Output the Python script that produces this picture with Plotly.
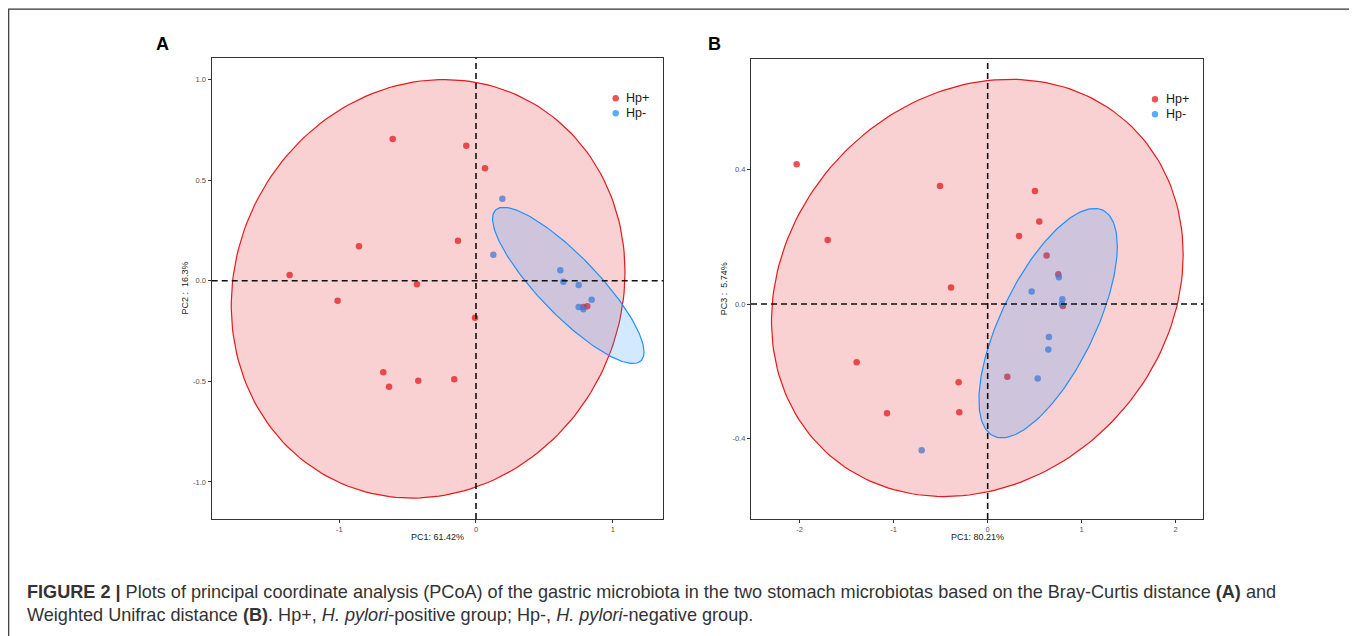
import numpy as np
import plotly.graph_objects as go

# ---------------- data ----------------
# Panel A (Bray-Curtis)
a_pos_x = [-0.609, -0.071, 0.066, -0.856, -0.132, -1.363, -0.432, -1.012, -0.007,
           -0.678, -0.636, -0.422, -0.159, 0.785, 0.814]
a_pos_y = [0.704, 0.671, 0.559, 0.172, 0.199, 0.028, -0.018, -0.099, -0.184,
           -0.455, -0.527, -0.497, -0.489, -0.131, -0.127]
a_neg_x = [0.193, 0.127, 0.617, 0.639, 0.751, 0.846, 0.751, 0.785]
a_neg_y = [0.408, 0.129, 0.052, -0.005, -0.021, -0.094, -0.131, -0.142]

# Panel B (Weighted Unifrac)
b_pos_x = [-2.032, -0.507, 0.503, 0.549, -1.702, 0.333, 0.627, 0.751, -0.390,
           -1.394, 0.209, -0.309, -1.071, -0.302, 0.800]
b_pos_y = [0.417, 0.352, 0.337, 0.246, 0.191, 0.203, 0.145, 0.089, 0.049,
           -0.174, -0.217, -0.233, -0.326, -0.323, -0.006]
b_neg_x = [0.758, 0.468, 0.794, 0.790, 0.652, 0.645, 0.532, -0.702]
b_neg_y = [0.080, 0.037, 0.014, 0.000, -0.098, -0.136, -0.222, -0.436]

# 95% confidence ellipses: [cx, cy, half-width X, half-height Y, coupling c]
a_ell_pos = [-0.350, -0.040, 1.440, 1.040, 0.080]
a_ell_neg = [0.675, -0.023, 0.554, 0.388, -0.853]
b_ell_pos = [-0.110, 0.048, 2.190, 0.622, 0.160]
b_ell_neg = [0.643, -0.057, 0.736, 0.342, 0.670]

groups = ["Hp+", "Hp-"]
a_xticks = [-1, 0, 1]
a_xticklabels = ["-1", "0", "1"]
a_yticks = [-1.0, -0.5, 0.0, 0.5, 1.0]
a_yticklabels = ["-1.0", "-0.5", "0.0", "0.5", "1.0"]
b_xticks = [-2, -1, 0, 1, 2]
b_xticklabels = ["-2", "-1", "0", "1", "2"]
b_yticks = [-0.4, 0.0, 0.4]
b_yticklabels = ["-0.4", "0.0", "0.4"]
a_xtitle, a_ytitle = "PC1: 61.42%", "PC2 :  16.3%"
b_xtitle, b_ytitle = "PC1: 80.21%", "PC3 :  5.74%"

# ---------------- styling ----------------
OFF = 8  # page body margin
W, H = 1349, 628
RED = (228, 26, 28)
BLUE = (30, 144, 255)
def rgba(c, a):
    return f"rgba({c[0]},{c[1]},{c[2]},{a})"

def px2x(p):
    return (p - OFF) / W
def px2y(p):
    return 1 - (p - OFF) / H

FONT = "Liberation Sans, Arial, sans-serif"

def ellipse(params, n=200):
    cx, cy, X, Y, c = params
    phi = np.arccos(c)
    t = np.linspace(0, 2 * np.pi, n)
    return cx + X * np.cos(t), cy + Y * np.cos(t - phi)

fig = go.Figure()

panels = [
    dict(xa="x", ya="y", pos=(a_pos_x, a_pos_y), neg=(a_neg_x, a_neg_y),
         ell=(a_ell_pos, a_ell_neg)),
    dict(xa="x2", ya="y2", pos=(b_pos_x, b_pos_y), neg=(b_neg_x, b_neg_y),
         ell=(b_ell_pos, b_ell_neg)),
]

for p in panels:
    for (xs, ys), col, name in [(p["pos"], RED, groups[0]), (p["neg"], BLUE, groups[1])]:
        fig.add_trace(go.Scatter(
            x=xs, y=ys, mode="markers", name=name, showlegend=False,
            marker=dict(size=6.5, color=rgba(col, 0.75), line=dict(width=0)),
            xaxis=p["xa"], yaxis=p["ya"], hoverinfo="x+y+name"))
    for prm, col in [(p["ell"][0], RED), (p["ell"][1], BLUE)]:
        ex, ey = ellipse(prm)
        fig.add_trace(go.Scatter(
            x=ex, y=ey, mode="lines", fill="toself", showlegend=False,
            fillcolor=rgba(col, 0.2), line=dict(color=rgba(col, 1), width=1.2),
            xaxis=p["xa"], yaxis=p["ya"], hoverinfo="skip"))

# plot areas (pixels in the screenshot)
A = dict(l=211.7, r=663.3, t=58, b=519)
B = dict(l=751, r=1203.3, t=59, b=519)

axis_common = dict(
    showgrid=False, zeroline=False, showline=True, mirror=True,
    linecolor="#333333", linewidth=1.3, ticks="outside", ticklen=3,
    tickwidth=1, tickcolor="#333333",
    tickfont=dict(family=FONT, size=7.5, color="#555555"),
)

fig.update_layout(
    width=W, height=H, margin=dict(l=0, r=0, t=0, b=0),
    paper_bgcolor="white", plot_bgcolor="white", showlegend=False,
    xaxis=dict(domain=[px2x(A["l"]), px2x(A["r"])], range=[-1.933, 1.370],
               tickvals=a_xticks, ticktext=a_xticklabels, anchor="y", **axis_common),
    yaxis=dict(domain=[px2y(A["b"]), px2y(A["t"])], range=[-1.184, 1.107],
               tickvals=a_yticks, ticktext=a_yticklabels, anchor="x", **axis_common),
    xaxis2=dict(domain=[px2x(B["l"]), px2x(B["r"])], range=[-2.518, 2.294],
                tickvals=b_xticks, ticktext=b_xticklabels, anchor="y2", **axis_common),
    yaxis2=dict(domain=[px2y(B["b"]), px2y(B["t"])], range=[-0.641, 0.7305],
                tickvals=b_yticks, ticktext=b_yticklabels, anchor="x2", **axis_common),
)

shapes = []
for xa, ya in [("x", "y"), ("x2", "y2")]:
    shapes.append(dict(type="line", xref=xa, yref=f"{ya} domain", x0=0, x1=0, y0=0, y1=1,
                       line=dict(color="#111111", width=1.6, dash="6px,4px")))
    shapes.append(dict(type="line", xref=f"{xa} domain", yref=ya, x0=0, x1=1, y0=0, y1=0,
                       line=dict(color="#111111", width=1.6, dash="6px,4px")))

# outer figure frame
shapes.append(dict(type="rect", xref="paper", yref="paper",
                   x0=px2x(8.7), x1=px2x(1355.3), y0=px2y(660), y1=px2y(9.2),
                   line=dict(color="#333333", width=1.2), fillcolor="rgba(0,0,0,0)",
                   layer="below"))

annotations = []
# legends (manual)
for lx, ly in [(615.7, 98.3), (1155.0, 99.3)]:
    for i, (g, col) in enumerate(zip(groups, [RED, BLUE])):
        yy = ly + i * 15.0
        shapes.append(dict(type="circle", xref="paper", yref="paper",
                           xsizemode="pixel", ysizemode="pixel",
                           xanchor=px2x(lx), yanchor=px2y(yy),
                           x0=-3.2, x1=3.2, y0=-3.2, y1=3.2,
                           fillcolor=rgba(col, 0.75), line=dict(width=0)))
        annotations.append(dict(text=g, xref="paper", yref="paper",
                                x=px2x(lx + 8.5), y=px2y(yy), xanchor="left",
                                yanchor="middle", showarrow=False,
                                font=dict(family=FONT, size=12.5, color="#1a1a1a")))

# axis titles
for cx, ty, txt in [((A["l"] + A["r"]) / 2, 537, a_xtitle), ((B["l"] + B["r"]) / 2, 537, b_xtitle)]:
    annotations.append(dict(text=txt, xref="paper", yref="paper", x=px2x(cx), y=px2y(ty),
                            xanchor="center", yanchor="middle", showarrow=False,
                            font=dict(family=FONT, size=9, color="#222222")))
for tx, cy, txt in [(184, (A["t"] + A["b"]) / 2, a_ytitle), (724.3, (B["t"] + B["b"]) / 2, b_ytitle)]:
    annotations.append(dict(text=txt, xref="paper", yref="paper", x=px2x(tx), y=px2y(cy),
                            xanchor="center", yanchor="middle", showarrow=False, textangle=-90,
                            font=dict(family=FONT, size=9, color="#222222")))

# panel letters
for lx, ly, t in [(162.5, 44, "A"), (714.5, 44, "B")]:
    annotations.append(dict(text=f"<b>{t}</b>", xref="paper", yref="paper",
                            x=px2x(lx), y=px2y(ly), xanchor="center", yanchor="middle",
                            showarrow=False, font=dict(family=FONT, size=18, color="black")))

# caption
cap1 = ("<b>FIGURE 2 |</b> Plots of principal coordinate analysis (PCoA) of the gastric microbiota "
        "in the two stomach microbiotas based on the Bray-Curtis distance <b>(A)</b> and")
cap2 = ("Weighted Unifrac distance <b>(B)</b>. Hp+, <i>H. pylori</i>-positive group; "
        "Hp-, <i>H. pylori</i>-negative group.")
for ty, txt in [(592, cap1), (615, cap2)]:
    annotations.append(dict(text=txt, xref="paper", yref="paper", x=px2x(25), y=px2y(ty),
                            xanchor="left", yanchor="middle", showarrow=False, align="left",
                            font=dict(family=FONT, size=18.1, color="#333333")))

fig.update_layout(shapes=shapes, annotations=annotations)
fig.write_html("out.html")
